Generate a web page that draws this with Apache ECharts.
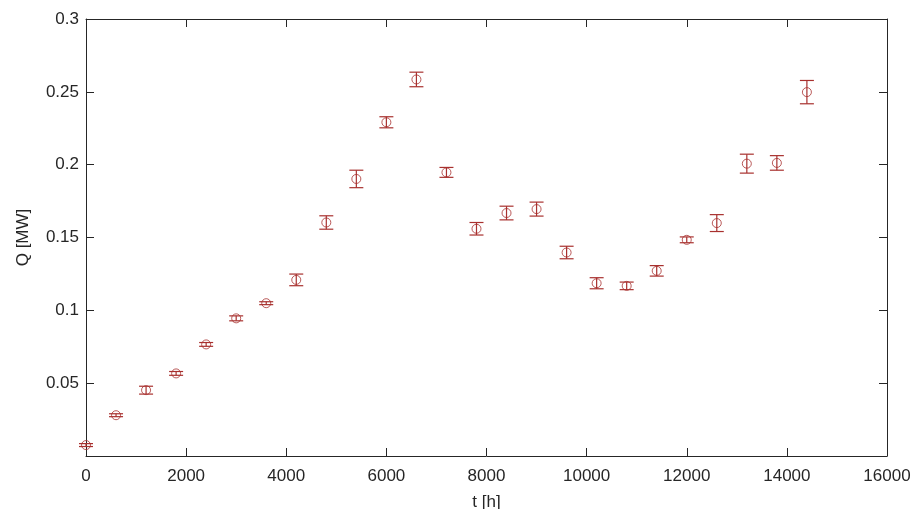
<!DOCTYPE html>
<html>
<head>
<meta charset="utf-8">
<script src="https://cdn.jsdelivr.net/npm/echarts@6/dist/echarts.min.js"></script>
<style>
  html, body { margin: 0; padding: 0; background: #fff; }
  #chart { width: 913px; height: 509px; }
</style>
</head>
<body>
<div id="chart"></div>
<script>
// t [h]
const times = [0, 600, 1200, 1800, 2400, 3000, 3600, 4200, 4800, 5400, 6000, 6600, 7200,
  7800, 8400, 9000, 9600, 10200, 10800, 11400, 12000, 12600, 13200, 13800, 14400];
// Q [MW]
const power = [0.0075, 0.028, 0.0452, 0.0567, 0.0766, 0.0945, 0.1049, 0.1209, 0.1603, 0.1902,
  0.2291, 0.2585, 0.1947, 0.156, 0.1668, 0.1695, 0.1397, 0.1186, 0.1168, 0.1271,
  0.1484, 0.1599, 0.2007, 0.2012, 0.2498];
// +/- error
const errors = [0.001, 0.001, 0.0027, 0.0013, 0.0013, 0.0017, 0.001, 0.004, 0.0046, 0.006,
  0.0038, 0.005, 0.0034, 0.0043, 0.0047, 0.0048, 0.0043, 0.0038, 0.0026, 0.0036,
  0.002, 0.0058, 0.0065, 0.005, 0.008];

const red = '#a8302e';
const ink = '#262626';
const font = 'Liberation Sans, Arial, Helvetica, sans-serif';

const points = times.map((t, i) => [t, power[i]]);
const bars = times.map((t, i) => [t, power[i] - errors[i], power[i] + errors[i]]);

const chart = echarts.init(document.getElementById('chart'));

const axisCommon = {
  type: 'value',
  axisLine: { show: true, onZero: false, lineStyle: { color: ink, width: 1 } },
  axisTick: { show: true, inside: true, length: 8, lineStyle: { color: ink } },
  splitLine: { show: false },
};

chart.setOption({
  animation: false,
  grid: { left: 86, right: 26, top: 19, bottom: 53, outerBoundsMode: 'none', containLabel: false },
  xAxis: [
    {
      ...axisCommon,
      min: 0,
      max: 16000,
      interval: 2000,
      name: 't [h]',
      nameLocation: 'middle',
      nameGap: 38,
      nameTextStyle: { color: ink, fontSize: 17, fontFamily: font },
      axisLabel: { color: ink, fontSize: 17, fontFamily: font, margin: 12, formatter: v => String(v) },
    },
    {
      ...axisCommon,
      position: 'top',
      min: 0,
      max: 16000,
      interval: 2000,
      axisLabel: { show: false },
    },
  ],
  yAxis: [
    {
      ...axisCommon,
      min: 0,
      max: 0.3,
      interval: 0.05,
      name: 'Q [MW]',
      nameLocation: 'middle',
      nameGap: 54,
      nameTextStyle: { color: ink, fontSize: 17, fontFamily: font },
      axisLabel: {
        color: ink,
        fontSize: 17,
        fontFamily: font,
        margin: 7,
        formatter: v => (v === 0 ? '' : String(+v.toFixed(2))),
      },
    },
    {
      ...axisCommon,
      position: 'right',
      min: 0,
      max: 0.3,
      interval: 0.05,
      axisLabel: { show: false },
    },
  ],
  series: [
    {
      type: 'custom',
      data: bars,
      renderItem(params, api) {
        const x = api.value(0);
        const lo = api.coord([x, api.value(1)]);
        const hi = api.coord([x, api.value(2)]);
        const cap = 7;
        const style = { stroke: red, lineWidth: 1.2 };
        return {
          type: 'group',
          children: [
            { type: 'line', shape: { x1: lo[0], y1: lo[1], x2: hi[0], y2: hi[1] }, style },
            { type: 'line', shape: { x1: lo[0] - cap, y1: lo[1], x2: lo[0] + cap, y2: lo[1] }, style },
            { type: 'line', shape: { x1: hi[0] - cap, y1: hi[1], x2: hi[0] + cap, y2: hi[1] }, style },
          ],
        };
      },
      z: 2,
    },
    {
      type: 'scatter',
      data: points,
      symbol: 'circle',
      symbolSize: 9,
      itemStyle: { color: 'transparent', borderColor: red, borderWidth: 1 },
      z: 3,
    },
  ],
});
</script>
</body>
</html>
